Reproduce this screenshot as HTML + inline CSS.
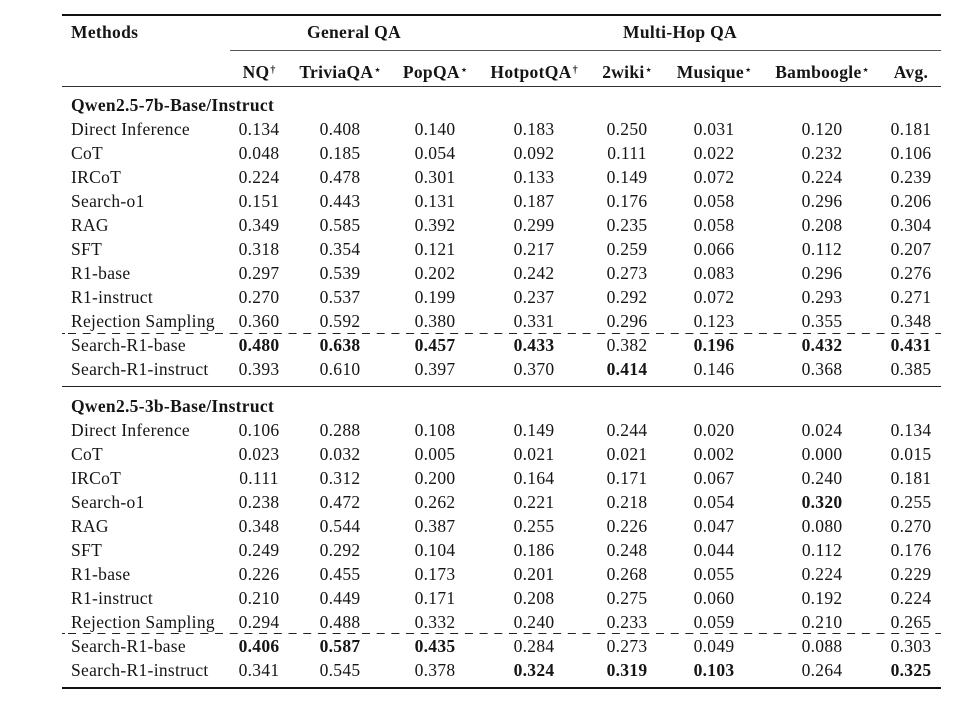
<!DOCTYPE html>
<html>
<head>
<meta charset="utf-8">
<style>
  html, body { margin:0; padding:0; background:#fff; }
  body { width:961px; height:704px; position:relative; overflow:hidden;
         font-family:"Liberation Serif", "DejaVu Serif", serif; color:#151515; }
  .t { position:absolute; font-size:17.5px; line-height:20px; letter-spacing:0.3px; white-space:nowrap; }
  .c { width:120px; text-align:center; }
  .b { font-weight:bold; }
  .rule { position:absolute; background:#111; }
  sup { font-size:10px; line-height:0; vertical-align:0; position:relative; top:-5px; margin-left:1px; letter-spacing:0; }
</style>
</head>
<body>

<!-- rules -->
<div class="rule" style="left:62px; top:14px; width:879px; height:2px;"></div>
<div class="rule" style="left:230px; top:50px; width:711px; height:1px; background:#555;"></div>
<div class="rule" style="left:62px; top:86px; width:879px; height:1px; background:#333;"></div>
<div class="rule" style="left:62px; top:386px; width:879px; height:1px; background:#222;"></div>
<div class="rule" style="left:62px; top:687px; width:879px; height:2px;"></div>

<svg width="961" height="704" style="position:absolute;left:0;top:0;" xmlns="http://www.w3.org/2000/svg">
  <g stroke="#222" stroke-width="1">
    <line x1="62" y1="333.5" x2="65" y2="333.5"/>
    <line x1="62" y1="333.5" x2="941" y2="333.5" stroke-dasharray="8 6.7" stroke-dashoffset="8.7"/>
    <line x1="62" y1="633.5" x2="65" y2="633.5"/>
    <line x1="62" y1="633.5" x2="941" y2="633.5" stroke-dasharray="8 6.7" stroke-dashoffset="8.7"/>
  </g>
</svg>

<!-- header row 1 -->
<div class="t b" style="left:71px; top:22px;">Methods</div>
<div class="t b c" style="left:294px; top:22px;">General QA</div>
<div class="t b c" style="left:620px; top:22px;">Multi-Hop QA</div>

<!-- header row 2 -->
<div class="t b c" style="left:199px; top:62px;">NQ<sup>†</sup></div>
<div class="t b c" style="left:280px; top:62px;">TriviaQA<sup>⋆</sup></div>
<div class="t b c" style="left:375px; top:62px;">PopQA<sup>⋆</sup></div>
<div class="t b c" style="left:474px; top:62px;">HotpotQA<sup>†</sup></div>
<div class="t b c" style="left:567px; top:62px;">2wiki<sup>⋆</sup></div>
<div class="t b c" style="left:654px; top:62px;">Musique<sup>⋆</sup></div>
<div class="t b c" style="left:762px; top:62px;">Bamboogle<sup>⋆</sup></div>
<div class="t b c" style="left:851px; top:62px;">Avg.</div>

<div class="t b" style="left:71px; top:95px;">Qwen2.5-7b-Base/Instruct</div>
<div class="t b" style="left:71px; top:396px;">Qwen2.5-3b-Base/Instruct</div>

<!-- Section 1 -->
<div style="position:absolute;left:0;top:119px;">
  <div class="t" style="left:71px;top:0px;">Direct Inference</div>
  <div class="t c" style="left:199px;top:0px;">0.134</div><div class="t c" style="left:280px;top:0px;">0.408</div><div class="t c" style="left:375px;top:0px;">0.140</div><div class="t c" style="left:474px;top:0px;">0.183</div><div class="t c" style="left:567px;top:0px;">0.250</div><div class="t c" style="left:654px;top:0px;">0.031</div><div class="t c" style="left:762px;top:0px;">0.120</div><div class="t c" style="left:851px;top:0px;">0.181</div>

  <div class="t" style="left:71px;top:24px;">CoT</div>
  <div class="t c" style="left:199px;top:24px;">0.048</div><div class="t c" style="left:280px;top:24px;">0.185</div><div class="t c" style="left:375px;top:24px;">0.054</div><div class="t c" style="left:474px;top:24px;">0.092</div><div class="t c" style="left:567px;top:24px;">0.111</div><div class="t c" style="left:654px;top:24px;">0.022</div><div class="t c" style="left:762px;top:24px;">0.232</div><div class="t c" style="left:851px;top:24px;">0.106</div>

  <div class="t" style="left:71px;top:48px;">IRCoT</div>
  <div class="t c" style="left:199px;top:48px;">0.224</div><div class="t c" style="left:280px;top:48px;">0.478</div><div class="t c" style="left:375px;top:48px;">0.301</div><div class="t c" style="left:474px;top:48px;">0.133</div><div class="t c" style="left:567px;top:48px;">0.149</div><div class="t c" style="left:654px;top:48px;">0.072</div><div class="t c" style="left:762px;top:48px;">0.224</div><div class="t c" style="left:851px;top:48px;">0.239</div>

  <div class="t" style="left:71px;top:72px;">Search-o1</div>
  <div class="t c" style="left:199px;top:72px;">0.151</div><div class="t c" style="left:280px;top:72px;">0.443</div><div class="t c" style="left:375px;top:72px;">0.131</div><div class="t c" style="left:474px;top:72px;">0.187</div><div class="t c" style="left:567px;top:72px;">0.176</div><div class="t c" style="left:654px;top:72px;">0.058</div><div class="t c" style="left:762px;top:72px;">0.296</div><div class="t c" style="left:851px;top:72px;">0.206</div>

  <div class="t" style="left:71px;top:96px;">RAG</div>
  <div class="t c" style="left:199px;top:96px;">0.349</div><div class="t c" style="left:280px;top:96px;">0.585</div><div class="t c" style="left:375px;top:96px;">0.392</div><div class="t c" style="left:474px;top:96px;">0.299</div><div class="t c" style="left:567px;top:96px;">0.235</div><div class="t c" style="left:654px;top:96px;">0.058</div><div class="t c" style="left:762px;top:96px;">0.208</div><div class="t c" style="left:851px;top:96px;">0.304</div>

  <div class="t" style="left:71px;top:120px;">SFT</div>
  <div class="t c" style="left:199px;top:120px;">0.318</div><div class="t c" style="left:280px;top:120px;">0.354</div><div class="t c" style="left:375px;top:120px;">0.121</div><div class="t c" style="left:474px;top:120px;">0.217</div><div class="t c" style="left:567px;top:120px;">0.259</div><div class="t c" style="left:654px;top:120px;">0.066</div><div class="t c" style="left:762px;top:120px;">0.112</div><div class="t c" style="left:851px;top:120px;">0.207</div>

  <div class="t" style="left:71px;top:144px;">R1-base</div>
  <div class="t c" style="left:199px;top:144px;">0.297</div><div class="t c" style="left:280px;top:144px;">0.539</div><div class="t c" style="left:375px;top:144px;">0.202</div><div class="t c" style="left:474px;top:144px;">0.242</div><div class="t c" style="left:567px;top:144px;">0.273</div><div class="t c" style="left:654px;top:144px;">0.083</div><div class="t c" style="left:762px;top:144px;">0.296</div><div class="t c" style="left:851px;top:144px;">0.276</div>

  <div class="t" style="left:71px;top:168px;">R1-instruct</div>
  <div class="t c" style="left:199px;top:168px;">0.270</div><div class="t c" style="left:280px;top:168px;">0.537</div><div class="t c" style="left:375px;top:168px;">0.199</div><div class="t c" style="left:474px;top:168px;">0.237</div><div class="t c" style="left:567px;top:168px;">0.292</div><div class="t c" style="left:654px;top:168px;">0.072</div><div class="t c" style="left:762px;top:168px;">0.293</div><div class="t c" style="left:851px;top:168px;">0.271</div>

  <div class="t" style="left:71px;top:192px;">Rejection Sampling</div>
  <div class="t c" style="left:199px;top:192px;">0.360</div><div class="t c" style="left:280px;top:192px;">0.592</div><div class="t c" style="left:375px;top:192px;">0.380</div><div class="t c" style="left:474px;top:192px;">0.331</div><div class="t c" style="left:567px;top:192px;">0.296</div><div class="t c" style="left:654px;top:192px;">0.123</div><div class="t c" style="left:762px;top:192px;">0.355</div><div class="t c" style="left:851px;top:192px;">0.348</div>

  <div class="t" style="left:71px;top:216px;">Search-R1-base</div>
  <div class="t c b" style="left:199px;top:216px;">0.480</div><div class="t c b" style="left:280px;top:216px;">0.638</div><div class="t c b" style="left:375px;top:216px;">0.457</div><div class="t c b" style="left:474px;top:216px;">0.433</div><div class="t c" style="left:567px;top:216px;">0.382</div><div class="t c b" style="left:654px;top:216px;">0.196</div><div class="t c b" style="left:762px;top:216px;">0.432</div><div class="t c b" style="left:851px;top:216px;">0.431</div>

  <div class="t" style="left:71px;top:240px;">Search-R1-instruct</div>
  <div class="t c" style="left:199px;top:240px;">0.393</div><div class="t c" style="left:280px;top:240px;">0.610</div><div class="t c" style="left:375px;top:240px;">0.397</div><div class="t c" style="left:474px;top:240px;">0.370</div><div class="t c b" style="left:567px;top:240px;">0.414</div><div class="t c" style="left:654px;top:240px;">0.146</div><div class="t c" style="left:762px;top:240px;">0.368</div><div class="t c" style="left:851px;top:240px;">0.385</div>
</div>

<!-- Section 2 -->
<div style="position:absolute;left:0;top:420px;">
  <div class="t" style="left:71px;top:0px;">Direct Inference</div>
  <div class="t c" style="left:199px;top:0px;">0.106</div><div class="t c" style="left:280px;top:0px;">0.288</div><div class="t c" style="left:375px;top:0px;">0.108</div><div class="t c" style="left:474px;top:0px;">0.149</div><div class="t c" style="left:567px;top:0px;">0.244</div><div class="t c" style="left:654px;top:0px;">0.020</div><div class="t c" style="left:762px;top:0px;">0.024</div><div class="t c" style="left:851px;top:0px;">0.134</div>

  <div class="t" style="left:71px;top:24px;">CoT</div>
  <div class="t c" style="left:199px;top:24px;">0.023</div><div class="t c" style="left:280px;top:24px;">0.032</div><div class="t c" style="left:375px;top:24px;">0.005</div><div class="t c" style="left:474px;top:24px;">0.021</div><div class="t c" style="left:567px;top:24px;">0.021</div><div class="t c" style="left:654px;top:24px;">0.002</div><div class="t c" style="left:762px;top:24px;">0.000</div><div class="t c" style="left:851px;top:24px;">0.015</div>

  <div class="t" style="left:71px;top:48px;">IRCoT</div>
  <div class="t c" style="left:199px;top:48px;">0.111</div><div class="t c" style="left:280px;top:48px;">0.312</div><div class="t c" style="left:375px;top:48px;">0.200</div><div class="t c" style="left:474px;top:48px;">0.164</div><div class="t c" style="left:567px;top:48px;">0.171</div><div class="t c" style="left:654px;top:48px;">0.067</div><div class="t c" style="left:762px;top:48px;">0.240</div><div class="t c" style="left:851px;top:48px;">0.181</div>

  <div class="t" style="left:71px;top:72px;">Search-o1</div>
  <div class="t c" style="left:199px;top:72px;">0.238</div><div class="t c" style="left:280px;top:72px;">0.472</div><div class="t c" style="left:375px;top:72px;">0.262</div><div class="t c" style="left:474px;top:72px;">0.221</div><div class="t c" style="left:567px;top:72px;">0.218</div><div class="t c" style="left:654px;top:72px;">0.054</div><div class="t c b" style="left:762px;top:72px;">0.320</div><div class="t c" style="left:851px;top:72px;">0.255</div>

  <div class="t" style="left:71px;top:96px;">RAG</div>
  <div class="t c" style="left:199px;top:96px;">0.348</div><div class="t c" style="left:280px;top:96px;">0.544</div><div class="t c" style="left:375px;top:96px;">0.387</div><div class="t c" style="left:474px;top:96px;">0.255</div><div class="t c" style="left:567px;top:96px;">0.226</div><div class="t c" style="left:654px;top:96px;">0.047</div><div class="t c" style="left:762px;top:96px;">0.080</div><div class="t c" style="left:851px;top:96px;">0.270</div>

  <div class="t" style="left:71px;top:120px;">SFT</div>
  <div class="t c" style="left:199px;top:120px;">0.249</div><div class="t c" style="left:280px;top:120px;">0.292</div><div class="t c" style="left:375px;top:120px;">0.104</div><div class="t c" style="left:474px;top:120px;">0.186</div><div class="t c" style="left:567px;top:120px;">0.248</div><div class="t c" style="left:654px;top:120px;">0.044</div><div class="t c" style="left:762px;top:120px;">0.112</div><div class="t c" style="left:851px;top:120px;">0.176</div>

  <div class="t" style="left:71px;top:144px;">R1-base</div>
  <div class="t c" style="left:199px;top:144px;">0.226</div><div class="t c" style="left:280px;top:144px;">0.455</div><div class="t c" style="left:375px;top:144px;">0.173</div><div class="t c" style="left:474px;top:144px;">0.201</div><div class="t c" style="left:567px;top:144px;">0.268</div><div class="t c" style="left:654px;top:144px;">0.055</div><div class="t c" style="left:762px;top:144px;">0.224</div><div class="t c" style="left:851px;top:144px;">0.229</div>

  <div class="t" style="left:71px;top:168px;">R1-instruct</div>
  <div class="t c" style="left:199px;top:168px;">0.210</div><div class="t c" style="left:280px;top:168px;">0.449</div><div class="t c" style="left:375px;top:168px;">0.171</div><div class="t c" style="left:474px;top:168px;">0.208</div><div class="t c" style="left:567px;top:168px;">0.275</div><div class="t c" style="left:654px;top:168px;">0.060</div><div class="t c" style="left:762px;top:168px;">0.192</div><div class="t c" style="left:851px;top:168px;">0.224</div>

  <div class="t" style="left:71px;top:192px;">Rejection Sampling</div>
  <div class="t c" style="left:199px;top:192px;">0.294</div><div class="t c" style="left:280px;top:192px;">0.488</div><div class="t c" style="left:375px;top:192px;">0.332</div><div class="t c" style="left:474px;top:192px;">0.240</div><div class="t c" style="left:567px;top:192px;">0.233</div><div class="t c" style="left:654px;top:192px;">0.059</div><div class="t c" style="left:762px;top:192px;">0.210</div><div class="t c" style="left:851px;top:192px;">0.265</div>

  <div class="t" style="left:71px;top:216px;">Search-R1-base</div>
  <div class="t c b" style="left:199px;top:216px;">0.406</div><div class="t c b" style="left:280px;top:216px;">0.587</div><div class="t c b" style="left:375px;top:216px;">0.435</div><div class="t c" style="left:474px;top:216px;">0.284</div><div class="t c" style="left:567px;top:216px;">0.273</div><div class="t c" style="left:654px;top:216px;">0.049</div><div class="t c" style="left:762px;top:216px;">0.088</div><div class="t c" style="left:851px;top:216px;">0.303</div>

  <div class="t" style="left:71px;top:240px;">Search-R1-instruct</div>
  <div class="t c" style="left:199px;top:240px;">0.341</div><div class="t c" style="left:280px;top:240px;">0.545</div><div class="t c" style="left:375px;top:240px;">0.378</div><div class="t c b" style="left:474px;top:240px;">0.324</div><div class="t c b" style="left:567px;top:240px;">0.319</div><div class="t c b" style="left:654px;top:240px;">0.103</div><div class="t c" style="left:762px;top:240px;">0.264</div><div class="t c b" style="left:851px;top:240px;">0.325</div>
</div>

</body>
</html>
